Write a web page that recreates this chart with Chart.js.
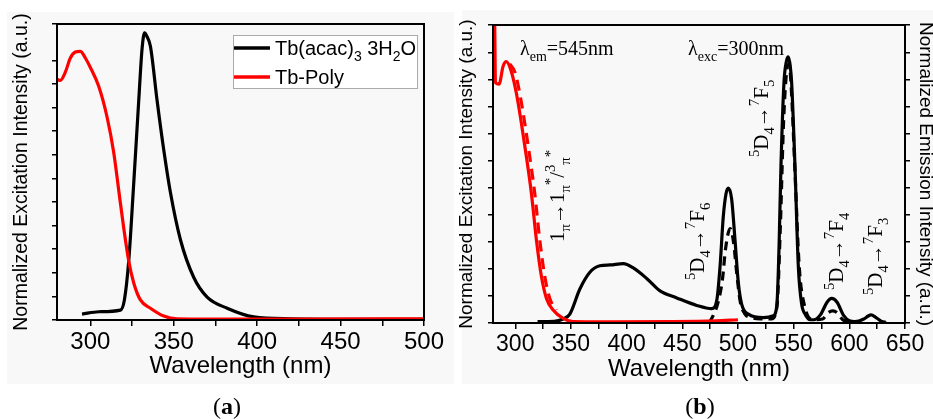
<!DOCTYPE html>
<html>
<head>
<meta charset="utf-8">
<script src="https://cdn.jsdelivr.net/npm/chart.js@4.4.0/dist/chart.umd.min.js"></script>
<style>
  html, body { margin: 0; padding: 0; background: #fff; width: 933px; height: 419px; overflow: hidden; position: relative; }
  .bg { position: absolute; background: #f8f8f8; }
  canvas { position: absolute; top: 0; }
  .cap { position: absolute; width: 80px; text-align: center; font-family: "Liberation Serif", serif; font-size: 24px; line-height: 26px; color: #000; }
  .cap b { font-weight: bold; }
</style>
</head>
<body>
<div class="bg" style="left:7px;top:12px;width:447px;height:372px"></div>
<div class="bg" style="left:462px;top:10px;width:471px;height:374px"></div>
<canvas id="chartA" width="452" height="419" style="left:0"></canvas>
<canvas id="chartB" width="485" height="419" style="left:452px"></canvas>
<div class="cap" style="left:187px;top:393px">(<b>a</b>)</div>
<div class="cap" style="left:660px;top:393px">(<b>b</b>)</div>
<script>
// (a) excitation spectra
const aBlackNm  = [295, 305, 318, 320.4, 323, 326, 329, 331, 332.5, 334, 336, 340, 344, 348, 354, 362, 370, 382, 398, 420, 460, 500];
const aBlackVal = [0.25, 0.35, 0.42, 0.85, 2.5, 5.8, 9.3, 11.5, 12.16, 12.0, 11.6, 9.3, 7.2, 5.4, 3.4, 1.8, 0.97, 0.5, 0.13, 0.05, 0.03, 0.03];
const aRedNm    = [280, 282, 285, 288, 291, 294, 297, 300, 305, 310, 314, 317, 320, 323, 326, 330, 336, 344, 352, 370, 420, 500];
const aRedVal   = [10.2, 10.15, 10.5, 11.1, 11.35, 11.38, 11.1, 10.7, 9.9, 8.6, 7.1, 5.5, 3.9, 2.5, 1.57, 0.85, 0.5, 0.17, 0.05, 0.04, 0.04, 0.05];
const aTicks    = [300, 325, 350, 375, 400, 425, 450, 475, 500];

// (b) excitation (red) and emission (black), solid and dashed
const bExNm      = [280, 281.5, 282.2, 285.5, 289, 292, 296.5, 301, 305.5, 310, 314.5, 319, 323.5, 328, 334, 343, 352, 380, 440, 480, 500];
const bExVal     = [12, 11.1, 8.9, 8.85, 9.5, 9.68, 9.31, 8.51, 7.4, 6.16, 4.8, 3.07, 1.72, 0.91, 0.48, 0.17, 0.05, 0.04, 0.05, 0.08, 0.12];
const bExDashNm  = [295, 299.5, 304, 308.5, 313, 317.5, 322, 326.5, 331, 337];
const bExDashVal = [9.6, 9.31, 8.51, 7.4, 6.16, 4.8, 3.07, 1.72, 0.91, 0.48];
const bEmNm      = [320, 335, 343, 349, 358, 367, 376, 385, 397, 406, 418, 430, 445, 463, 476.4, 481, 483.9, 486.8, 489.3, 491.3, 494.3, 497.3, 500.3, 503.3, 509.3, 522.8, 531.8, 533.5, 535.3, 537, 538.6, 541.3, 543.5, 545.2, 547, 548.2, 551.2, 554.2, 557.2, 560, 565, 568, 574, 580, 584.2, 589, 595, 600, 605, 613, 617, 619.5, 624, 629, 633];
const bEmVal     = [0.05, 0.06, 0.15, 0.33, 1.26, 1.88, 2.12, 2.15, 2.2, 2.04, 1.65, 1.19, 0.93, 0.65, 0.53, 0.85, 2.09, 3.94, 4.8, 5.0, 4.6, 3.1, 1.5, 0.7, 0.33, 0.2, 0.27, 0.35, 0.9, 3.0, 5.8, 8.9, 9.7, 9.86, 9.5, 8.9, 5.8, 2.1, 0.7, 0.35, 0.12, 0.12, 0.3, 0.77, 0.91, 0.77, 0.27, 0.08, 0.05, 0.15, 0.26, 0.3, 0.2, 0.06, 0.02];
const bEmDashNm  = [474, 478, 482, 486, 489, 493, 496, 499, 502, 506, 512, 520, 530, 535, 538, 541, 544, 546, 548, 551, 555, 560, 568, 576, 581, 585, 589, 594, 600];
const bEmDashVal = [0, 0.3, 0.75, 1.6, 2.8, 3.5, 3.0, 1.8, 0.8, 0.35, 0.2, 0.15, 0.15, 0.6, 3.5, 7.5, 9.4, 9.6, 8.6, 5.8, 2.1, 0.6, 0.12, 0.15, 0.38, 0.45, 0.38, 0.12, 0.05];
const bTicks     = [300, 325, 350, 375, 400, 425, 450, 475, 500, 525, 550, 575, 600, 625, 650];

const sans = '"Liberation Sans", Arial, sans-serif';
const serif = '"Liberation Serif", "Times New Roman", serif';

function pts(xs, ys) {
  return xs.map((x, i) => ({ x: x, y: ys[i] }));
}

// text with sub/superscripts, optionally rotated
function richText(ctx, parts, x, y, size, family, rot) {
  ctx.save();
  ctx.translate(x, y);
  ctx.rotate(rot || 0);
  ctx.fillStyle = '#000';
  ctx.textAlign = 'left';
  ctx.textBaseline = 'alphabetic';
  let cx = 0;
  parts.forEach(([t, kind]) => {
    const s = kind ? size * 0.7 : size;
    ctx.font = s + 'px ' + family;
    const dy = kind === 'sub' ? size * 0.3 : kind === 'sup' ? -size * 0.42 : 0;
    ctx.fillText(t, cx, dy);
    cx += ctx.measureText(t).width;
  });
  ctx.restore();
}

const framePlugin = {
  id: 'frame',
  afterDraw(chart) {
    const { ctx, chartArea: a } = chart;
    ctx.save();
    ctx.strokeStyle = '#000';
    ctx.lineWidth = 2;
    ctx.strokeRect(a.left, a.top, a.right - a.left, a.bottom - a.top);
    ctx.restore();
  }
};

const legendA = {
  id: 'legendA',
  afterDraw(chart) {
    const ctx = chart.ctx;
    ctx.save();
    ctx.fillStyle = '#fff';
    ctx.fillRect(233, 35, 184, 53);
    ctx.strokeStyle = '#aaa';
    ctx.lineWidth = 1;
    ctx.strokeRect(233.5, 35.5, 184, 53);
    ctx.lineWidth = 3.5;
    ctx.strokeStyle = '#000';
    ctx.beginPath(); ctx.moveTo(234, 48); ctx.lineTo(270, 48); ctx.stroke();
    ctx.strokeStyle = '#ff0000';
    ctx.beginPath(); ctx.moveTo(234, 77); ctx.lineTo(270, 77); ctx.stroke();
    ctx.restore();
    richText(ctx, [['Tb(acac)'], ['3', 'sub'], [' 3H'], ['2', 'sub'], ['O']], 275, 55, 20, sans);
    richText(ctx, [['Tb-Poly']], 275, 84, 20, sans);
  }
};

const labelsB = {
  id: 'labelsB',
  afterDraw(chart) {
    const ctx = chart.ctx;
    const up = -Math.PI / 2;
    richText(ctx, [['λ'], ['em', 'sub'], ['=545nm']], 68, 55, 20, serif);
    richText(ctx, [['λ'], ['exc', 'sub'], ['=300nm']], 236, 55, 20, serif);
    richText(ctx, [['1'], ['π', 'sub'], ['→'], ['1'], ['π', 'sub'], ['*', 'sup'], ['/'], ['3', 'sup'], ['π', 'sub'], ['*', 'sup']], 112, 242, 21, serif, up);
    richText(ctx, [['5', 'sup'], ['D'], ['4', 'sub'], ['→'], ['7', 'sup'], ['F'], ['6', 'sub']], 252, 280, 21, serif, up);
    richText(ctx, [['5', 'sup'], ['D'], ['4', 'sub'], ['→'], ['7', 'sup'], ['F'], ['5', 'sub']], 316, 157, 21, serif, up);
    richText(ctx, [['5', 'sup'], ['D'], ['4', 'sub'], ['→'], ['7', 'sup'], ['F'], ['4', 'sub']], 391, 290, 21, serif, up);
    richText(ctx, [['5', 'sup'], ['D'], ['4', 'sub'], ['→'], ['7', 'sup'], ['F'], ['3', 'sub']], 430, 295, 21, serif, up);
  }
};

function xAxis(min, max, tickVals, tickSize, height) {
  return {
    type: 'linear', min: min, max: max,
    afterBuildTicks: s => { s.ticks = tickVals.map(v => ({ value: v })); },
    ticks: {
      autoSkip: false, maxRotation: 0, padding: 2, color: '#000',
      font: { family: sans, size: tickSize },
      callback: v => (v % 50 === 0 ? v : '')
    },
    grid: { drawOnChartArea: false, tickLength: 6, color: '#000', lineWidth: 1.5 },
    border: { color: '#000', width: 2 },
    title: { display: true, text: 'Wavelength (nm)', color: '#000', font: { family: sans, size: 24 }, padding: 0 },
    afterFit: s => { s.height = height; }
  };
}

function yAxis(max, pos, text, size, pad, width) {
  return {
    position: pos, min: 0, max: max,
    ticks: { stepSize: 1, callback: () => '' },
    grid: { drawOnChartArea: false, tickLength: 5, color: '#000', lineWidth: 1.5 },
    border: { color: '#000', width: 2 },
    title: { display: true, text: text, color: '#000', font: { family: sans, size: size }, padding: { top: pad, bottom: 0 } },
    afterFit: s => { s.width = width; }
  };
}

const line = (data, color, extra) => Object.assign({
  data: data, borderColor: color, borderWidth: 3.2, pointRadius: 0,
  cubicInterpolationMode: 'monotone', fill: false
}, extra || {});

new Chart(document.getElementById('chartA'), {
  type: 'line',
  data: {
    datasets: [
      line(pts(aRedNm, aRedVal), '#ff0000', { label: 'Tb-Poly', order: 0 }),
      line(pts(aBlackNm, aBlackVal), '#000', { label: 'Tb(acac)3 3H2O', order: 1 })
    ]
  },
  options: {
    responsive: false, animation: false, events: [],
    layout: { padding: { top: 24, right: 28, bottom: 38, left: 0 } },
    plugins: { legend: { display: false }, tooltip: { enabled: false } },
    scales: {
      x: xAxis(280, 500, aTicks, 24, 61),
      y: yAxis(12.54, 'left', 'Normalized Excitation Intensity (a.u.)', 19.5, 10, 57)
    }
  },
  plugins: [framePlugin, legendA]
});

new Chart(document.getElementById('chartB'), {
  type: 'line',
  data: {
    datasets: [
      line(pts(bExNm, bExVal), '#ff0000', { order: 0, yAxisID: 'y' }),
      line(pts(bExDashNm, bExDashVal), '#ff0000', { order: 1, yAxisID: 'y', borderDash: [11, 7] }),
      line(pts(bEmNm, bEmVal), '#000', { order: 2, yAxisID: 'y2' }),
      line(pts(bEmDashNm, bEmDashVal), '#000', { order: 3, yAxisID: 'y2', borderDash: [9, 6] })
    ]
  },
  options: {
    responsive: false, animation: false, events: [],
    layout: { padding: { top: 25, right: 0, bottom: 35, left: 0 } },
    plugins: { legend: { display: false }, tooltip: { enabled: false } },
    scales: {
      x: xAxis(280, 650, bTicks, 23, 61),
      y: yAxis(11.04, 'left', 'Normalized Excitation Intensity (a.u.)', 19, 3, 41),
      y2: yAxis(11.04, 'right', 'Normalized Emission Intensity (a.u.)', 19, 0, 32)
    }
  },
  plugins: [framePlugin, labelsB]
});
</script>
</body>
</html>
